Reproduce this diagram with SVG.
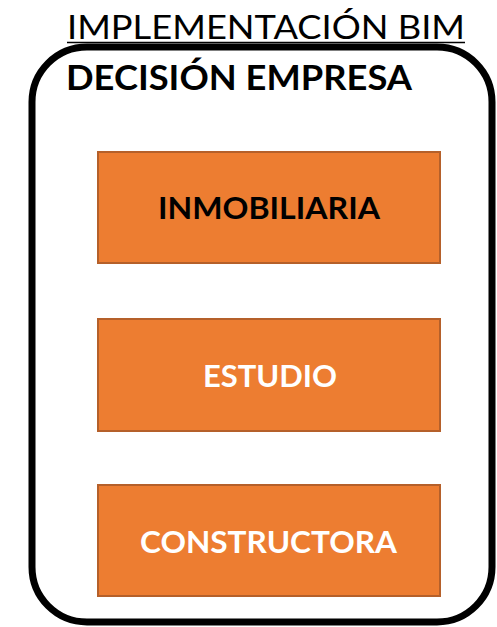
<svg xmlns="http://www.w3.org/2000/svg" width="497" height="627" viewBox="0 0 497 627">
<style>
.t{font-family:Lato,"Open Sans","Liberation Sans",sans-serif}
.box{fill:#ED7D31;stroke:#B5602A;stroke-width:2}
.lbl{font-weight:bold;font-size:30px;text-anchor:middle}
</style>
<rect width="497" height="627" fill="#fff"/>
<g id="title">
<text class="t" x="266" y="39" font-size="32" text-anchor="middle" textLength="398" lengthAdjust="spacingAndGlyphs" fill="#000">IMPLEMENTACIÓN BIM</text>
<line x1="67" y1="42.5" x2="465" y2="42.5" stroke="#000" stroke-width="1.5"/>
</g>
<g id="empresa">
<rect x="32" y="47" width="460" height="575" rx="55" ry="55" fill="none" stroke="#000" stroke-width="7"/>
<text class="t" x="66" y="90" font-size="35" font-weight="bold" textLength="346" lengthAdjust="spacingAndGlyphs" fill="#000">DECISIÓN EMPRESA</text>
</g>
<g id="inmobiliaria">
<rect class="box" x="98" y="152" width="342" height="111"/>
<text class="t lbl" x="269" y="219" textLength="222" lengthAdjust="spacingAndGlyphs" fill="#000">INMOBILIARIA</text>
</g>
<g id="estudio">
<rect class="box" x="98" y="319" width="342" height="112"/>
<text class="t lbl" x="270" y="387" textLength="134" lengthAdjust="spacingAndGlyphs" fill="#fff">ESTUDIO</text>
</g>
<g id="constructora">
<rect class="box" x="98" y="485" width="342" height="111"/>
<text class="t lbl" x="268.5" y="553" textLength="257" lengthAdjust="spacingAndGlyphs" fill="#fff">CONSTRUCTORA</text>
</g>
<g id="connectors"></g>
</svg>
